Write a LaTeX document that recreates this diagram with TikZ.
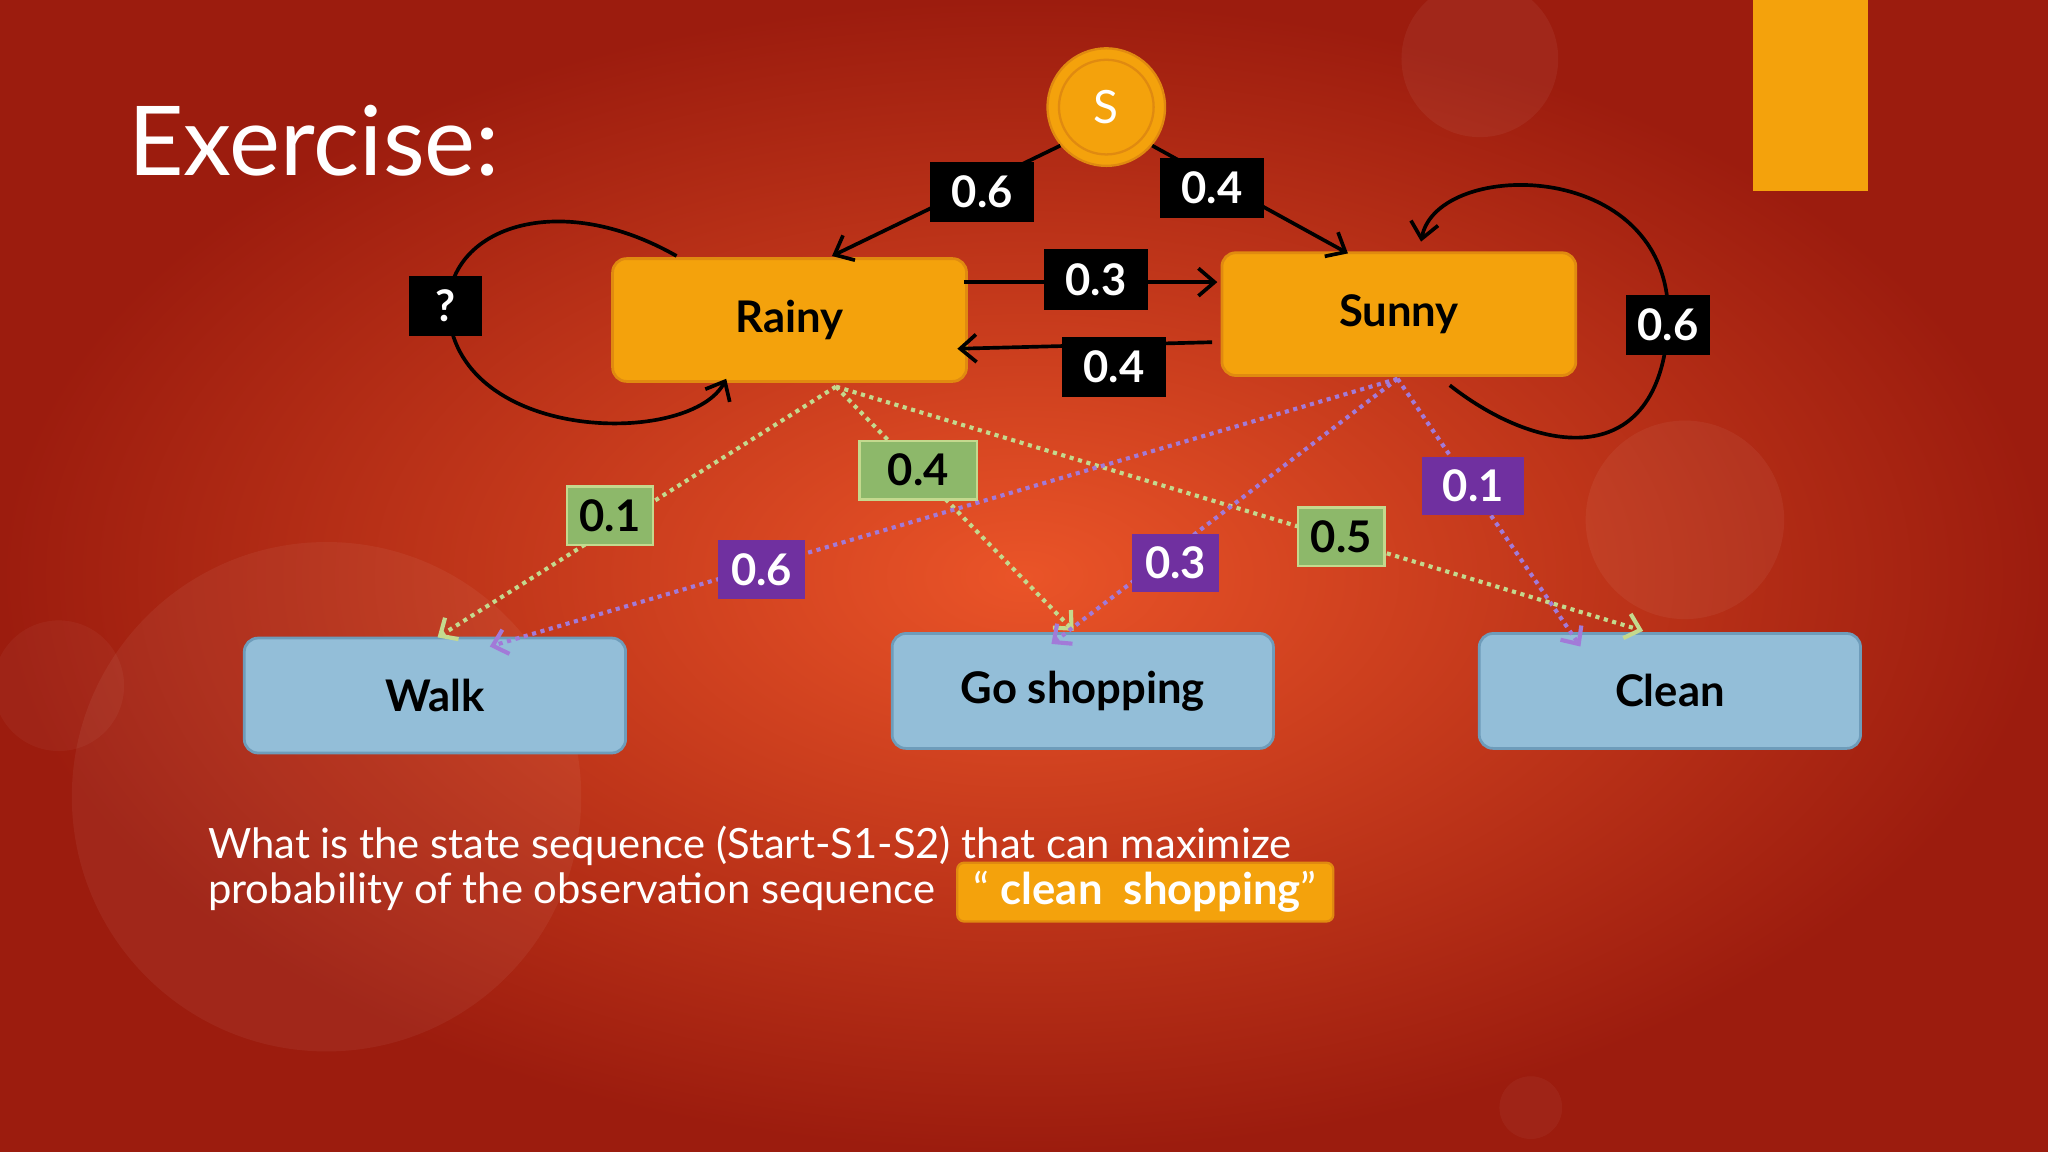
\documentclass[tikz,border=0pt]{standalone}
\usepackage{fontspec}
\setmainfont{Lato}
\usetikzlibrary{arrows.meta}
\definecolor{bgin}{HTML}{EA5428}
\definecolor{bgout}{HTML}{9C1C0E}
\definecolor{org}{HTML}{F4A20C}
\definecolor{orgb}{HTML}{E08A10}
\definecolor{blu}{HTML}{93BED8}
\definecolor{blub}{HTML}{6E9CBA}
\definecolor{grn}{HTML}{8DB86A}
\definecolor{grnl}{HTML}{C4D98E}
\definecolor{pur}{HTML}{7030A0}
\definecolor{purl}{HTML}{A27AD8}
\tikzset{
  state/.style={draw=orgb,line width=1.2pt,fill=org,rounded corners=6pt,minimum width=5.42cm,minimum height=1.88cm,font=\fontsize{19}{24}\selectfont\bfseries},
  obs/.style={draw=blub,line width=1.2pt,fill=blu,rounded corners=6pt,minimum width=5.84cm,minimum height=1.76cm,font=\fontsize{19}{24}\selectfont\bfseries},
  blk/.style={fill=black,text=white,minimum width=1.6cm,minimum height=0.92cm,inner sep=0pt,font=\fontsize{19}{22}\selectfont\bfseries},
  gbox/.style={fill=grn,draw=grnl,line width=1pt,minimum width=1.32cm,minimum height=0.9cm,inner sep=0pt,font=\fontsize{19}{22}\selectfont\bfseries},
  pbox/.style={fill=pur,text=white,minimum width=1.32cm,minimum height=0.9cm,inner sep=0pt,font=\fontsize{19}{22}\selectfont\bfseries},
  arr/.style={line width=1.6pt,-{Straight Barb[length=7pt,width=12pt]}},
  gdot/.style={grnl,dotted,line width=1.8pt,-{Straight Barb[length=6pt,width=11pt]}},
  pdot/.style={purl,dotted,line width=1.8pt,-{Straight Barb[length=6pt,width=11pt]}},
}
\begin{document}
\begin{tikzpicture}[x=0.02cm,y=-0.02cm]
\useasboundingbox (0,0) rectangle (1568,882);
\shade[inner color=bgin,outer color=bgout] (0,0) rectangle (1568,882);
\fill[white,opacity=0.05] (250,610) circle (195);
\fill[white,opacity=0.05] (1290,398) circle (76);
\fill[white,opacity=0.05] (1133,45) circle (60);
\fill[white,opacity=0.04] (45,525) circle (50);
\fill[white,opacity=0.04] (1172,848) circle (24);
\fill[org] (1342,0) rectangle (1430,146);
\node[anchor=west,text=white,font=\fontsize{42}{48}\selectfont] (ex) at (92,108) {Exercise:};
% start
\node[circle,fill=org,draw=orgb,line width=1pt,minimum size=1.8cm] (S) at (847,82) {};
\node[circle,draw=orgb,line width=1pt,minimum size=1.45cm,text=white,font=\fontsize{20}{24}\selectfont] (Si) at (847,82) {S};
\node[state] (R) at (604.5,245) {Rainy};
\node[state] (Su) at (1071,240.5) {Sunny};
\node[obs] (W) at (333,532.5) {Walk};
\node[obs] (G) at (829,529) {Go shopping};
\node[obs] (C) at (1278.5,529) {Clean};
% dotted emissions
\coordinate (rb) at (640,296);
\coordinate (sb) at (1070,290);
\draw[gdot] (rb) -- (335,488);
\draw[gdot] (rb) -- (822,483);
\draw[gdot] (rb) -- (1258,483);
\draw[pdot] (sb) -- (375,495);
\draw[pdot] (sb) -- (805,493);
\draw[pdot] (sb) -- (1210,495);
\node[gbox] (g1) at (467,395) {0.1};
\node[gbox,minimum width=1.8cm] (g2) at (703,360) {0.4};
\node[gbox] (g3) at (1027,411) {0.5};
\node[pbox] (p1) at (583,436) {0.6};
\node[pbox] (p2) at (900,431) {0.3};
\node[pbox,minimum width=1.56cm] (p3) at (1128,372) {0.1};
% transitions
\draw[arr] (S.220) -- (637,196);
\draw[arr] (S.320) -- (1032,194);
\draw[arr] (738,216) -- (932,216);
\draw[arr] (928,262) -- (733,267);
\draw[arr] (518,196) .. controls (420,140) and (330,180) .. (345,250) .. controls (365,340) and (530,340) .. (556,290);
\draw[arr] (1110,295) .. controls (1180,350) and (1270,360) .. (1277,250) .. controls (1285,120) and (1100,120) .. (1088,185);
\node[blk] (l1) at (752,147) {0.6};
\node[blk] (l2) at (928,144) {0.4};
\node[blk] (l3) at (839,214) {0.3};
\node[blk] (l4) at (853,281) {0.4};
\node[blk,minimum width=1.12cm] (lq) at (341,234) {?};
\node[blk,minimum width=1.3cm] (l5) at (1277,249) {0.6};
% question
\node[anchor=west,text=white,font=\fontsize{18.2}{22}\selectfont,inner sep=0pt] (q1) at (159,648) {What is the state sequence (Start-S1-S2) that can maximize};
\node[anchor=west,text=white,font=\fontsize{18.2}{22}\selectfont,inner sep=0pt] (q2) at (159,683) {probability of the observation sequence};
\node[anchor=west,fill=org,draw=orgb,line width=1pt,rounded corners=3pt,text=white,minimum width=5.76cm,minimum height=0.9cm,font=\fontsize{19}{24}\selectfont] (hl) at (732,683) {“ \textbf{clean\ \ shopping}”};
\end{tikzpicture}
\end{document}
